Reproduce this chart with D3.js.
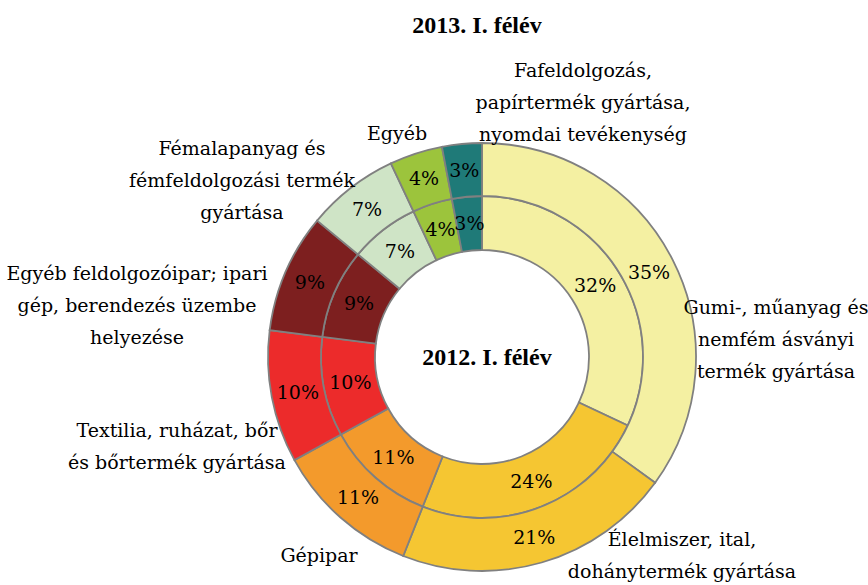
<!DOCTYPE html>
<html>
<head>
<meta charset="utf-8">
<script src="https://cdn.jsdelivr.net/npm/d3@7"></script>
</head>
<body style="margin:0">
<script>
const w = 868;
const h = 585;
const labelFont = "'DejaVu Serif', 'Liberation Serif', serif";
const titleFont = "'Liberation Serif', 'Times New Roman', serif";

// data: order clockwise from 12 o'clock
const categories = [
  "Gumi-, műanyag és nemfém ásványi termék gyártása",
  "Élelmiszer, ital, dohánytermék gyártása",
  "Gépipar",
  "Textilia, ruházat, bőr és bőrtermék gyártása",
  "Egyéb feldolgozóipar; ipari gép, berendezés üzembe helyezése",
  "Fémalapanyag és fémfeldolgozási termék gyártása",
  "Egyéb",
  "Fafeldolgozás, papírtermék gyártása, nyomdai tevékenység"
];
const values2013 = [35, 21, 11, 10, 9, 7, 4, 3];
const values2012 = [32, 24, 11, 10, 9, 7, 4, 3];
const colors = ["#f4f0a2", "#f5c632", "#f39a2c", "#ec2b2b", "#7d1f1f", "#cfe4c6", "#9cc43c", "#1f7a78"];

// label layout (line breaks and anchor points)
const labelLines = [
  ["Gumi-, műanyag és", "nemfém ásványi", "termék gyártása"],
  ["Élelmiszer, ital,", "dohánytermék gyártása"],
  ["Gépipar"],
  ["Textilia, ruházat, bőr", "és bőrtermék gyártása"],
  ["Egyéb feldolgozóipar; ipari", "gép, berendezés üzembe", "helyezése"],
  ["Fémalapanyag és", "fémfeldolgozási termék", "gyártása"],
  ["Egyéb"],
  ["Fafeldolgozás,", "papírtermék gyártása,", "nyomdai tevékenység"]
];
const labelPos = [[776, 307], [682, 539], [319, 555], [177, 430], [137, 273], [242, 148], [397, 133], [583, 70]];

const cx = 482, cy = 357;
const rHole = 107, rMid = 161, rOuter = 214;

const svg = d3.select("body").append("svg").attr("width", w).attr("height", h);
const graph = svg.append("g").attr("transform", `translate(${cx}, ${cy})`);

const pie = d3.pie().sort(null).value((d) => d);

const rings = [
  { values: values2012, inner: rHole, outer: rMid },
  { values: values2013, inner: rMid, outer: rOuter }
];

rings.forEach((ring) => {
  const arc = d3.arc().innerRadius(ring.inner).outerRadius(ring.outer);
  const g = graph.append("g");
  const arcs = pie(ring.values);
  g.selectAll("path")
    .data(arcs)
    .enter()
    .append("path")
    .attr("d", arc)
    .attr("fill", (d, i) => colors[i])
    .attr("stroke", "#808080")
    .attr("stroke-width", 1.8);

  g.selectAll("text")
    .data(arcs)
    .enter()
    .append("text")
    .attr("x", (d) => arc.centroid(d)[0])
    .attr("y", (d) => arc.centroid(d)[1])
    .attr("text-anchor", "middle")
    .attr("dy", "0.35em")
    .style("font-family", labelFont)
    .style("font-size", "19px")
    .text((d) => d.data + "%");
});

// category labels
labelLines.forEach((lines, i) => {
  const t = svg.append("text")
    .attr("text-anchor", "middle")
    .style("font-family", labelFont)
    .style("font-size", "19px");
  lines.forEach((line, j) => {
    t.append("tspan")
      .attr("x", labelPos[i][0])
      .attr("y", labelPos[i][1] + j * 32)
      .attr("dy", "0.35em")
      .text(line);
  });
});

// titles
svg.append("text")
  .attr("x", 477).attr("y", 25).attr("dy", "0.35em")
  .attr("text-anchor", "middle")
  .style("font-family", titleFont)
  .style("font-size", "24px").style("font-weight", "bold")
  .text("2013. I. félév");

svg.append("text")
  .attr("x", 487).attr("y", 357).attr("dy", "0.35em")
  .attr("text-anchor", "middle")
  .style("font-family", titleFont)
  .style("font-size", "24px").style("font-weight", "bold")
  .text("2012. I. félév");
</script>
</body>
</html>
